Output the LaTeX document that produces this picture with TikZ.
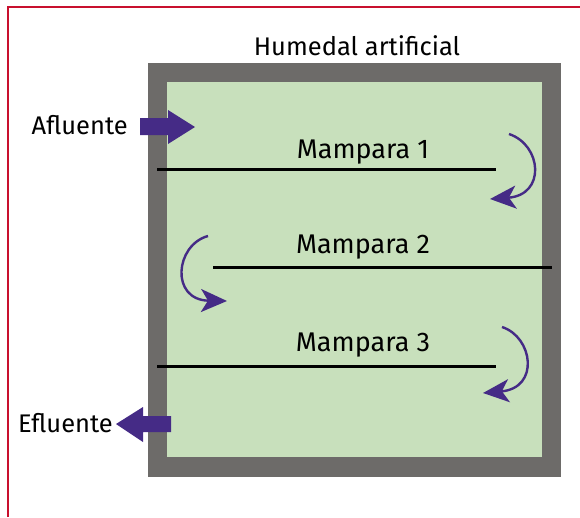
\documentclass[tikz,border=0pt]{standalone}
\usepackage{fontspec}
\setmainfont{Fira Sans}
\usetikzlibrary{arrows.meta}
\definecolor{wall}{HTML}{6D6B69}
\definecolor{water}{HTML}{C8E0BC}
\definecolor{flow}{HTML}{452B86}
\definecolor{frame}{HTML}{C8102E}
\tikzset{
  lbl/.style={inner sep=0pt, font=\fontsize{25.5}{28}\selectfont},
  mlbl/.style={inner sep=0pt, font=\fontsize{27}{30}\selectfont},
  baffle/.style={line width=3pt, black},
  swirl/.style={flow, line width=2.4pt, -{Stealth[length=26pt,width=23pt,inset=7pt]}},
  blockarrow/.style={fill=flow, draw=none}
}
\begin{document}
\begin{tikzpicture}[x=1pt,y=-1pt]
\useasboundingbox (0,0) rectangle (580,517);
% outer frame
\draw[frame, line width=2.5pt] (8,517) -- (8,7) -- (580,7);
% wetland
\fill[wall] (148,63) rectangle (561,477);
\fill[water] (167,82) rectangle (542,457);
% title
\node[lbl, anchor=base] (title) at (357,55) {Humedal artificial};
% baffles
\coordinate (b1a) at (157,169); \coordinate (b1b) at (496,169);
\coordinate (b2a) at (213,267); \coordinate (b2b) at (552,267);
\coordinate (b3a) at (157,366); \coordinate (b3b) at (496,366);
\draw[baffle] (b1a) -- (b1b);
\draw[baffle] (b2a) -- (b2b);
\draw[baffle] (b3a) -- (b3b);
\node[mlbl, anchor=base] (m1) at (363,158) {Mampara 1};
\node[mlbl, anchor=base] (m2) at (363,253) {Mampara 2};
\node[mlbl, anchor=base] (m3) at (363,351) {Mampara 3};
% swirl arrows
\coordinate (s1a) at (509,134); \coordinate (s1b) at (490,199);
\coordinate (s2a) at (208,236); \coordinate (s2b) at (227,301);
\coordinate (s3a) at (502,327); \coordinate (s3b) at (483,393);
\draw[swirl] (s1a) .. controls (542,145) and (546,195) .. (s1b);
\draw[swirl] (s2a) .. controls (175,245) and (170,300) .. (s2b);
\draw[swirl] (s3a) .. controls (533,337) and (540,388) .. (s3b);
% inflow / outflow
\node[lbl, anchor=base east] (af) at (128,134) {Afluente};
\node[lbl, anchor=base east] (ef) at (113,432) {Efluente};
\fill[blockarrow] (140,118) -- (168,118) -- (168,110) -- (195,127) -- (168,144) -- (168,135) -- (140,135) -- cycle;
\fill[blockarrow] (171,416) -- (143,416) -- (143,407) -- (116,424) -- (143,442) -- (143,432) -- (171,432) -- cycle;
\end{tikzpicture}
\end{document}
